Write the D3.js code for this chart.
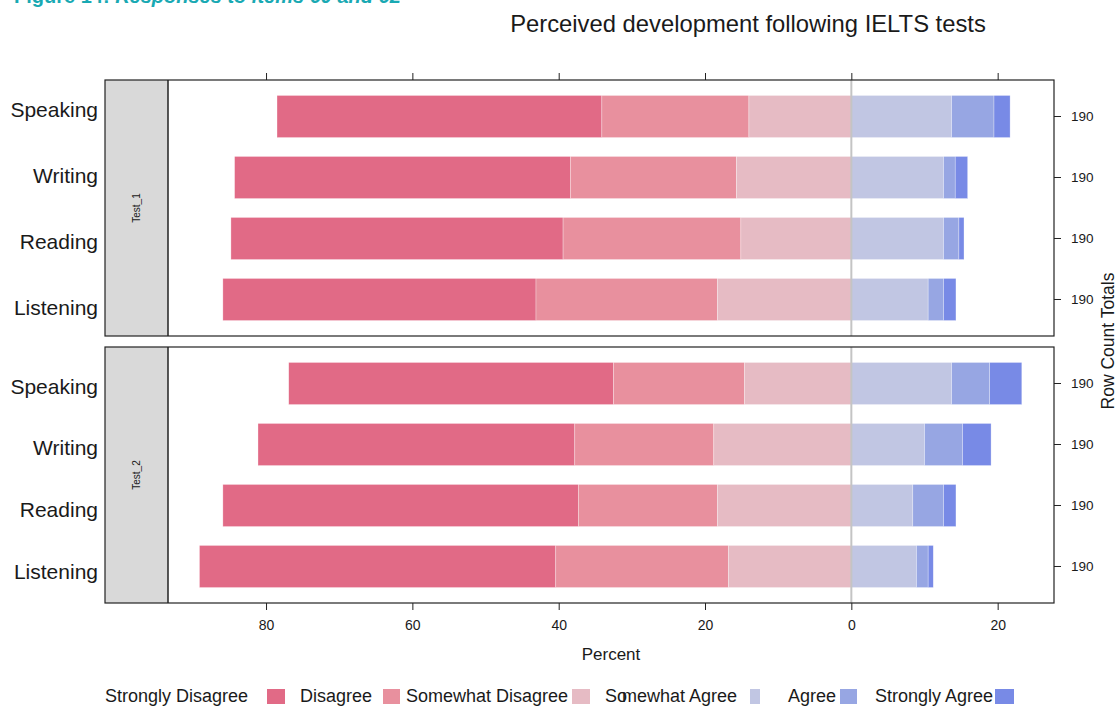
<!DOCTYPE html>
<html>
<head>
<meta charset="utf-8">
<script src="https://cdn.jsdelivr.net/npm/d3@7"></script>
<style>
  html, body { margin: 0; padding: 0; background: #fff; }
  svg { display: block; font-family: "Liberation Sans", Arial, Helvetica, sans-serif; }
</style>
</head>
<body>
<svg id="chart" width="1117" height="706"></svg>
<script>
// ---------- data ----------
const levels = ["Strongly Disagree", "Disagree", "Somewhat Disagree", "Somewhat Agree", "Agree", "Strongly Agree"];
const items = ["Speaking", "Writing", "Reading", "Listening"];
const panels = ["Test_1", "Test_2"];
const levelColors = ["#E16A86", "#E8909E", "#E6BBC4", "#C1C6E3", "#97A6E3", "#788AE6"];

// percentages, order = levels
const test1Speaking  = [44.4, 20.1, 14.0, 13.7, 5.8, 2.2];
const test1Writing   = [45.9, 22.7, 15.7, 12.6, 1.6, 1.7];
const test1Reading   = [45.4, 24.3, 15.1, 12.6, 2.1, 0.7];
const test1Listening = [42.8, 24.8, 18.3, 10.5, 2.1, 1.7];
const test2Speaking  = [44.4, 17.9, 14.6, 13.7, 5.2, 4.4];
const test2Writing   = [43.3, 19.0, 18.8, 10.0, 5.2, 3.9];
const test2Reading   = [48.6, 19.0, 18.3, 8.4, 4.2, 1.7];
const test2Listening = [48.7, 23.6, 16.8, 8.9, 1.6, 0.7];

const rowTotals1 = [190, 190, 190, 190];
const rowTotals2 = [190, 190, 190, 190];
const xTickValues = [-80, -60, -40, -20, 0, 20];

const panelData = [
  { name: panels[0], rows: [test1Speaking, test1Writing, test1Reading, test1Listening], totals: rowTotals1 },
  { name: panels[1], rows: [test2Speaking, test2Writing, test2Reading, test2Listening], totals: rowTotals2 }
];

// ---------- layout ----------
const svg = d3.select("#chart");
const font = "'Liberation Sans', Arial, Helvetica, sans-serif";
const boxLeft = 105, stripRight = 168, boxRight = 1054;
const panelTops = [80, 347], panelBottoms = [336, 603];
const labelRanges = [[109, 307], [386, 571]];

const x = d3.scaleLinear().domain([-93.4, 27.7]).range([stripRight, boxRight]);

// figure caption (mostly clipped at the top)
svg.append("text")
  .attr("x", 14).attr("y", 3)
  .attr("fill", "#19A9B3")
  .attr("font-size", 20).attr("font-weight", "bold")
  .call(t => {
    t.append("tspan").text("Figure 14: ");
    t.append("tspan").attr("font-style", "italic").text("Responses to items 60 and 62");
  });

// title
svg.append("text")
  .attr("x", 748).attr("y", 32)
  .attr("text-anchor", "middle")
  .attr("font-size", 23.8).attr("fill", "#1a1a1a")
  .text("Perceived development following IELTS tests");

panelData.forEach((p, pi) => {
  const top = panelTops[pi], bottom = panelBottoms[pi];
  const y = d3.scaleBand().domain(items).range([top, bottom]).paddingInner(0.31).paddingOuter(0.2535);
  const yl = d3.scalePoint().domain(items).range(labelRanges[pi]);
  const g = svg.append("g");

  // strip
  g.append("rect").attr("x", boxLeft).attr("y", top).attr("width", stripRight - boxLeft).attr("height", bottom - top)
    .attr("fill", "#D9D9D9");
  g.append("text")
    .attr("transform", `translate(${(boxLeft + stripRight) / 2 + 3},${(top + bottom) / 2}) rotate(-90)`)
    .attr("text-anchor", "middle").attr("font-size", 10).attr("fill", "#1a1a1a")
    .text(p.name);

  // bars
  p.rows.forEach((vals, ri) => {
    const negTotal = vals[0] + vals[1] + vals[2];
    let start = -negTotal;
    const segs = vals.map((v, li) => {
      const s = { x0: start, x1: start + v, color: levelColors[li] };
      start += v;
      return s;
    });
    g.selectAll(null).data(segs).enter().append("rect")
      .attr("x", d => x(d.x0))
      .attr("width", d => x(d.x1) - x(d.x0))
      .attr("y", y(items[ri]))
      .attr("height", y.bandwidth())
      .attr("fill", d => d.color)
      .attr("stroke", "#fff").attr("stroke-opacity", 0.5).attr("stroke-width", 0.6);
  });

  // zero reference line
  g.append("line").attr("x1", x(0)).attr("x2", x(0)).attr("y1", top).attr("y2", bottom)
    .attr("stroke", "#C4C4C4").attr("stroke-width", 2);

  // panel border and strip separator
  g.append("rect").attr("x", boxLeft).attr("y", top).attr("width", boxRight - boxLeft).attr("height", bottom - top)
    .attr("fill", "none").attr("stroke", "#222").attr("stroke-width", 1.2);
  g.append("line").attr("x1", stripRight).attr("x2", stripRight).attr("y1", top).attr("y2", bottom)
    .attr("stroke", "#222").attr("stroke-width", 1.5);

  // left category labels
  g.selectAll(null).data(items).enter().append("text")
    .attr("x", 98).attr("y", d => yl(d))
    .attr("dy", "0.36em").attr("text-anchor", "end")
    .attr("font-size", 21).attr("fill", "#1a1a1a")
    .text(d => d);

  // right axis: row count totals
  const right = g.append("g").attr("transform", `translate(${boxRight},0)`);
  right.selectAll(null).data(items).enter().append("line")
    .attr("x1", 0).attr("x2", 7).attr("y1", d => y(d) + y.bandwidth() / 2).attr("y2", d => y(d) + y.bandwidth() / 2)
    .attr("stroke", "#222");
  right.selectAll(null).data(items).enter().append("text")
    .attr("x", 17).attr("y", d => y(d) + y.bandwidth() / 2).attr("dy", "0.36em")
    .attr("font-size", 13.5).attr("fill", "#1a1a1a")
    .text((d, i) => p.totals[i]);

  // x axis ticks
  if (pi === 0) {
    const axTop = d3.axisTop(x).tickValues(xTickValues).tickSize(7).tickFormat("");
    g.append("g").attr("transform", `translate(0,${top})`).call(axTop)
      .call(a => a.select(".domain").remove())
      .call(a => a.selectAll("line").attr("stroke", "#222"));
  } else {
    const axBot = d3.axisBottom(x).tickValues(xTickValues).tickSize(7).tickPadding(10)
      .tickFormat(d => Math.abs(d));
    g.append("g").attr("transform", `translate(0,${bottom})`).call(axBot)
      .call(a => a.select(".domain").remove())
      .call(a => a.selectAll("line").attr("stroke", "#222"))
      .call(a => a.selectAll("text").attr("font-size", 14).attr("font-family", font).attr("fill", "#1a1a1a"));
  }
});

// axis titles
svg.append("text")
  .attr("x", (stripRight + boxRight) / 2).attr("y", 660)
  .attr("text-anchor", "middle").attr("font-size", 17).attr("fill", "#1a1a1a")
  .text("Percent");

svg.append("text")
  .attr("transform", `translate(1114,341) rotate(-90)`)
  .attr("text-anchor", "middle").attr("font-size", 17.5).attr("fill", "#1a1a1a")
  .text("Row Count Totals");

// legend
const legendText = [105, 300, 406, 605, 788, 875];
const legendSwatch = [{ x: 267, w: 18 }, { x: 383, w: 17 }, { x: 572, w: 18 }, { x: 750, w: 10 }, { x: 840, w: 17 }, { x: 995, w: 19 }];
const lg = svg.append("g");
lg.selectAll(null).data(levels).enter().append("rect")
  .attr("x", (d, i) => legendSwatch[i].x).attr("y", 689)
  .attr("width", (d, i) => legendSwatch[i].w).attr("height", 15)
  .attr("fill", (d, i) => levelColors[i]);
lg.selectAll(null).data(levels).enter().append("text")
  .attr("x", (d, i) => legendText[i]).attr("y", 702)
  .attr("font-size", 18).attr("fill", "#1a1a1a")
  .each(function (d) {
    const t = d3.select(this);
    if (d === "Somewhat Agree") {
      t.append("tspan").text("So");
      t.append("tspan").attr("x", 622).text("mewhat Agree");
    } else {
      t.text(d);
    }
  });
</script>
</body>
</html>
